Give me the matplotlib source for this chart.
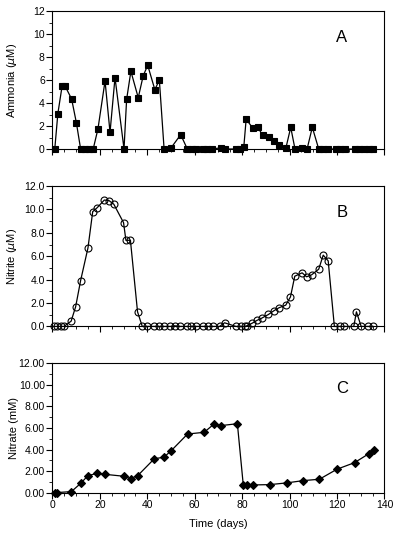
import matplotlib.pyplot as plt
import matplotlib.ticker as ticker

plt.rcParams['font.family'] = ['Liberation Sans', 'DejaVu Sans']
plt.rcParams['mathtext.fontset'] = 'dejavusans'

# Panel A - ammonia (uM)
days_a = [1, 2.3, 4.1, 5.3, 8.1, 10.1, 11.9, 13.6, 15.4, 17.2, 19.2, 22.2, 24.3, 26.4,
          30.2, 31.3, 33.1, 36.2, 38.3, 40.2, 43.2, 45.1, 47.1, 50.0, 54.1, 56.9, 59,
          60.7, 63.5, 65.3, 67.4, 70.9, 72.9, 77.5, 78.9, 80.7, 81.7, 84.6, 86.6, 88.6,
          91.4, 93.6, 95.7, 98.5, 100.5, 102.3, 105.2, 107.4, 109.6, 112.3, 114.1,
          116.1, 119.4, 121.1, 123.2, 127.5, 129.1, 131.2, 133.3, 135.3]
ammonia = [0, 3.08, 5.5, 5.5, 4.36, 2.3, 0, 0, 0, 0, 1.74, 5.93, 1.45, 6.22,
           0, 4.33, 6.77, 4.47, 6.39, 7.29, 5.17, 6.01, 0, 0.09, 1.25, 0, 0,
           0, 0, 0, 0, 0.1, 0, 0, 0, 0.15, 2.59, 1.8, 1.89, 1.22,
           1.07, 0.73, 0.38, 0.12, 1.89, 0, 0.06, 0, 1.89, 0, 0,
           0, 0, 0, 0, 0, 0, 0, 0, 0]

# Panel B - nitrite (uM)
days_b = [0.7, 2.1, 3.5, 4.9, 7.9, 9.8, 11.9, 15.0, 17.0, 18.9, 21.9, 23.9, 25.9,
          30.0, 31.0, 32.9, 35.9, 37.9, 40.0, 42.8, 44.8, 46.9, 49.8, 51.6, 53.7,
          56.7, 58.5, 60.6, 63.5, 65.5, 67.6, 70.5, 72.6, 77.4, 79.4, 81.3, 81.9,
          84.3, 86.2, 88.3, 91.1, 93.4, 95.5, 98.4, 100.4, 102.2, 105.3, 107.2,
          109.3, 112.3, 114.2, 116.3, 118.9, 121.1, 123.0, 127.1, 128.2, 130.2,
          133.1, 135.2]
nitrite = [0, 0, 0, 0, 0.45, 1.68, 3.92, 6.71, 9.81, 10.15, 10.8, 10.75, 10.44,
           8.87, 7.36, 7.36, 1.25, 0, 0, 0, 0, 0, 0, 0.05, 0,
           0, 0, 0, 0, 0, 0, 0, 0.31, 0, 0, 0, 0.05,
           0.28, 0.51, 0.71, 1.02, 1.34, 1.59, 1.82, 2.53, 4.29, 4.58, 4.24,
           4.41, 4.89, 6.09, 5.6, 0, 0, 0, 0, 1.25, 0,
           0, 0]

# Panel C - nitrate (mM)
days_c = [1, 1.8, 8, 12, 15, 19, 22, 30, 33, 36, 43, 47, 50, 57, 64, 68, 71, 78,
          80.5, 81.9, 84.8, 91.7, 98.8, 105.7, 112.6, 120, 127.4, 133.5, 135.7]
nitrate = [0, 0, 0.09, 0.87, 1.58, 1.79, 1.70, 1.52, 1.30, 1.58, 3.15, 3.28, 3.87,
           5.44, 5.60, 6.34, 6.22, 6.40, 0.68, 0.68, 0.71, 0.74, 0.90, 1.11, 1.24,
           2.17, 2.78, 3.62, 3.96]

fig = plt.figure(figsize=(4, 5.36), dpi=100)

panels = [
    ([0.131, 0.722, 0.830, 0.257], days_a, ammonia, 's', 'k', r'Ammonia ($\mu$M)', '{:.0f}', 'A'),
    ([0.131, 0.391, 0.830, 0.262], days_b, nitrite, 'o', 'none', r'Nitrite ($\mu$M)', '{:.1f}', 'B'),
    ([0.131, 0.081, 0.830, 0.241], days_c, nitrate, 'D', 'k', 'Nitrate (mM)', '{:.2f}', 'C'),
]

for i, (rect, x, y, mk, mfc, ylab, fmt, tag) in enumerate(panels):
    ax = fig.add_axes(rect)
    ms = {'s': 5, 'o': 5, 'D': 4}[mk]
    ax.plot(x, y, color='k', linewidth=0.9, marker=mk, markersize=ms,
            markerfacecolor=mfc, markeredgecolor='k', markeredgewidth=0.8, clip_on=False)
    ax.set_xlim(0, 140)
    ax.set_ylim(0, 12)
    ax.xaxis.set_major_locator(ticker.MultipleLocator(20))
    ax.xaxis.set_minor_locator(ticker.MultipleLocator(5))
    ax.yaxis.set_major_locator(ticker.MultipleLocator(2))
    ax.yaxis.set_minor_locator(ticker.MultipleLocator(1))
    ax.yaxis.set_major_formatter(ticker.FuncFormatter(lambda v, p, f=fmt: f.format(v)))
    ax.tick_params(which='major', direction='out', length=4, width=0.8, labelsize=7.5, pad=1.5)
    ax.tick_params(which='minor', direction='out', length=2, width=0.6)
    for s in ax.spines.values():
        s.set_linewidth(0.8)
    ax.set_ylabel(ylab, fontsize=8, labelpad=4)
    ax.yaxis.set_label_coords(-0.10, 0.5)
    if i < 2:
        ax.tick_params(axis='x', labelbottom=False)
    else:
        ax.set_xlabel('Time (days)', fontsize=8, labelpad=6)
    ax.text(122, 9.7, tag, fontsize=12, ha='center', va='center')

plt.savefig('out.png', dpi=100)
